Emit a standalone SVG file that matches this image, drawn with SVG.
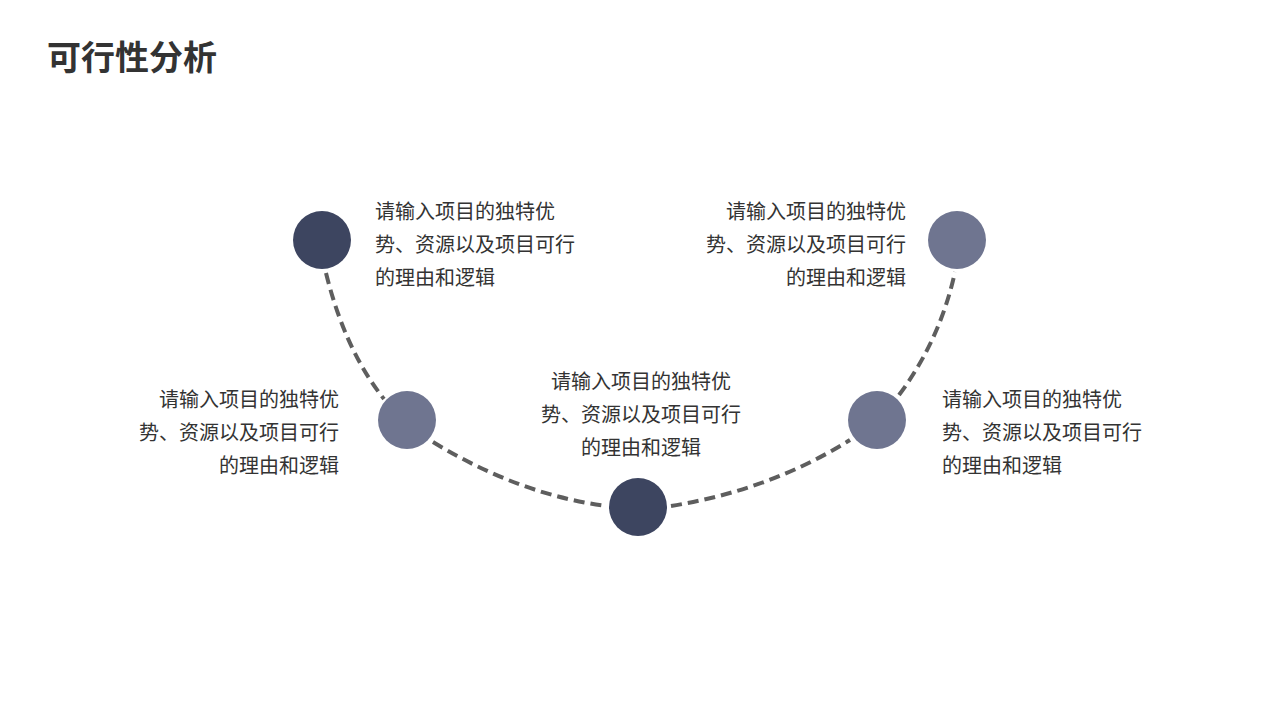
<svg xmlns="http://www.w3.org/2000/svg" width="1280" height="720" viewBox="0 0 1280 720">
<style>
.t{font-family:"Noto Sans CJK SC","Noto Sans",sans-serif;font-size:20px;fill:#333}
.d{fill:#3d4560}.g{fill:#6f7590}
.c{fill:none;stroke:#5e5e5e;stroke-width:4;stroke-dasharray:11 6}
</style>
<rect width="1280" height="720" fill="#fff"/>
<text x="47" y="70" style="font-family:'Noto Sans CJK SC',sans-serif;font-size:34px;font-weight:bold;fill:#333">可行性分析</text>
<g id="connectors">
<path class="c" d="M326,273 Q345,350 384,399"/>
<path class="c" d="M433,442 Q520,495 607,506"/>
<path class="c" d="M671,506 Q770,490 850,440"/>
<path class="c" d="M899,395 Q940,340 955,272"/>
</g>
<g id="n1"><circle class="d" cx="322" cy="240" r="29"/>
<text class="t" x="375" y="219">请输入项目的独特优</text><text class="t" x="375" y="252">势、资源以及项目可行</text><text class="t" x="375" y="285">的理由和逻辑</text></g>
<g id="n2"><circle class="g" cx="407" cy="420" r="29"/>
<text class="t" text-anchor="end" x="339" y="407">请输入项目的独特优</text><text class="t" text-anchor="end" x="339" y="440">势、资源以及项目可行</text><text class="t" text-anchor="end" x="339" y="473">的理由和逻辑</text></g>
<g id="n3"><circle class="d" cx="638" cy="507" r="29"/>
<text class="t" text-anchor="middle" x="641" y="389">请输入项目的独特优</text><text class="t" text-anchor="middle" x="641" y="422">势、资源以及项目可行</text><text class="t" text-anchor="middle" x="641" y="455">的理由和逻辑</text></g>
<g id="n4"><circle class="g" cx="877" cy="420" r="29"/>
<text class="t" x="942" y="407">请输入项目的独特优</text><text class="t" x="942" y="440">势、资源以及项目可行</text><text class="t" x="942" y="473">的理由和逻辑</text></g>
<g id="n5"><circle class="g" cx="957" cy="240" r="29"/>
<text class="t" text-anchor="end" x="906" y="219">请输入项目的独特优</text><text class="t" text-anchor="end" x="906" y="252">势、资源以及项目可行</text><text class="t" text-anchor="end" x="906" y="285">的理由和逻辑</text></g>
</svg>
